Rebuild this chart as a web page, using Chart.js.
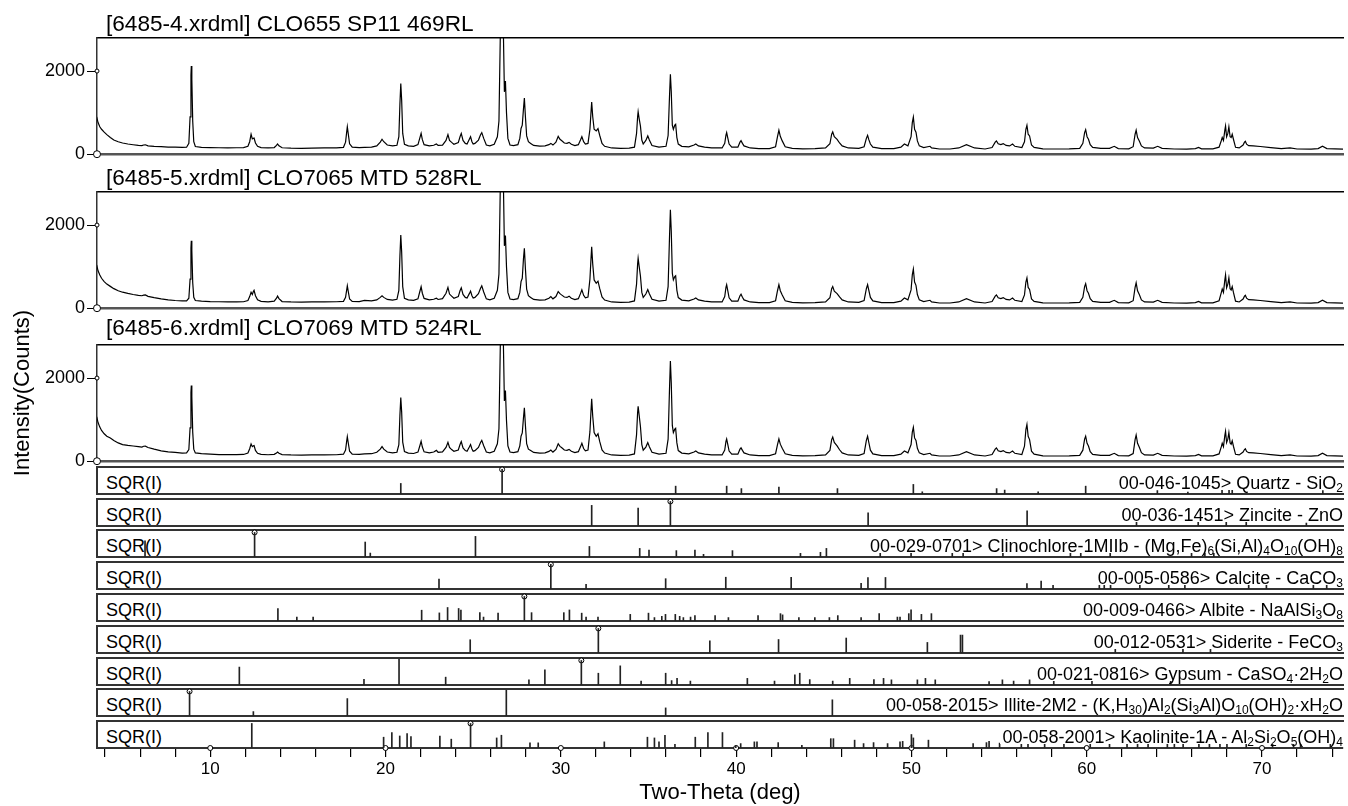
<!DOCTYPE html>
<html>
<head>
<meta charset="utf-8">
<script src="https://cdn.jsdelivr.net/npm/chart.js@4.4.1/dist/chart.umd.min.js"></script>
<style>
  body { margin: 0; background: #fff; }
  #wrap { position: relative; width: 1348px; height: 806px; overflow: hidden; font-family: "Liberation Sans", Arial, sans-serif; color: #000; }
  canvas { position: absolute; left: 0; z-index: 2; }
  .ttl { position: absolute; left: 106px; font-size: 22.6px; line-height: 22px; white-space: nowrap; z-index: 3; }
  .sqr { position: absolute; left: 106px; font-size: 18px; line-height: 18px; z-index: 1; }
  .phase { position: absolute; right: 5px; font-size: 18px; line-height: 18px; background: #fff; white-space: nowrap;
           box-sizing: border-box; padding: 5px 0 0 3px; z-index: 3; }
  .phase sub { font-size: 12px; vertical-align: -3px; line-height: 0; }
  .ylab { position: absolute; width: 220px; text-align: center; font-size: 22px; line-height: 22px; transform: rotate(-90deg); z-index: 3; }
</style>
</head>
<body>
<div id="wrap"></div>
<script>
// ---- data ----
const XMIN = 3.54, XMAX = 74.62;

const sampleNames = [
  '[6485-4.xrdml] CLO655 SP11 469RL',
  '[6485-5.xrdml] CLO7065 MTD 528RL',
  '[6485-6.xrdml] CLO7069 MTD 524RL'
];

const twoTheta = [
  3.52,3.6,3.7,3.8,3.95,4.1,4.3,4.5,4.75,5.0,
  5.3,5.6,5.9,6.1,6.2,6.3,6.45,6.8,7.2,7.6,
  8.0,8.4,8.65,8.78,8.85,8.9,8.92,8.95,9.0,9.06,
  9.15,9.5,10.0,10.5,11.0,11.5,11.9,12.15,12.25,12.33,
  12.4,12.46,12.5,12.58,12.7,12.9,13.3,13.65,13.78,13.84,
  13.92,14.1,14.6,15.2,15.8,16.5,17.2,17.6,17.72,17.78,
  17.82,17.87,17.95,18.1,18.5,18.8,19.2,19.5,19.7,19.8,
  19.9,20.1,20.4,20.65,20.76,20.82,20.87,20.92,20.98,21.08,
  21.3,21.6,21.85,21.95,22.03,22.1,22.2,22.5,22.75,22.9,
  23.0,23.25,23.45,23.56,23.65,23.77,23.9,24.15,24.25,24.32,
  24.42,24.55,24.65,24.78,24.85,24.93,25.0,25.1,25.3,25.42,
  25.49,25.6,25.75,25.95,26.2,26.38,26.47,26.56,26.64,26.72,
  26.78,26.84,26.9,26.98,27.1,27.3,27.55,27.66,27.73,27.8,
  27.87,27.92,27.98,28.05,28.15,28.28,28.45,28.8,29.1,29.32,
  29.43,29.55,29.72,29.85,29.95,30.04,30.2,30.35,30.47,30.6,
  30.8,31.0,31.12,31.2,31.3,31.4,31.55,31.66,31.72,31.76,
  31.82,31.9,32.02,32.12,32.22,32.35,32.5,32.9,33.4,33.9,
  34.2,34.32,34.38,34.41,34.47,34.54,34.62,34.7,34.85,34.96,
  35.05,35.2,35.6,36.0,36.12,36.2,36.25,36.3,36.36,36.42,
  36.5,36.55,36.62,36.7,36.9,37.3,37.6,37.7,37.85,38.2,
  38.6,38.9,39.2,39.35,39.42,39.46,39.52,39.6,39.75,40.1,
  40.22,40.28,40.36,40.45,40.8,41.3,41.9,42.25,42.36,42.44,
  42.52,42.63,42.8,43.2,43.8,44.5,45.1,45.35,45.45,45.51,
  45.6,45.76,45.9,46.05,46.4,47.0,47.3,47.43,47.5,47.57,
  47.66,47.8,48.3,49.0,49.4,49.6,49.8,49.98,50.05,50.11,
  50.18,50.26,50.34,50.45,50.7,51.0,51.06,51.15,51.6,52.2,
  52.7,53.14,53.6,54.2,54.6,54.78,54.85,54.95,55.1,55.24,
  55.4,55.6,55.77,55.9,56.3,56.45,56.53,56.59,56.66,56.74,
  56.85,57.0,57.5,58.3,59.0,59.6,59.78,59.88,59.94,60.02,
  60.1,60.2,60.34,60.8,61.3,61.57,61.8,62.4,62.65,62.76,
  62.82,62.9,63.0,63.12,63.3,63.8,64.05,64.3,65.0,65.7,
  66.2,66.38,66.55,67.2,67.55,67.68,67.73,67.8,67.88,67.92,
  67.98,68.05,68.11,68.18,68.24,68.3,68.37,68.49,68.7,68.92,
  69.0,69.05,69.12,69.24,69.5,69.9,70.5,71.1,71.6,72.0,
  72.8,73.2,73.45,73.7,74.62
];

const counts4 = [
  900,760,660,600,530,470,400,340,300,270,
  245,228,212,205,222,226,200,188,180,172,
  168,163,168,260,900,1900,2120,1800,800,300,
  185,165,158,155,152,155,160,190,300,480,
  370,385,390,270,190,160,150,160,210,245,
  200,155,145,142,148,150,152,165,290,520,
  660,500,250,170,158,165,170,200,290,360,
  300,220,200,215,420,1200,1700,1300,500,240,
  200,190,230,380,500,350,230,200,215,245,
  210,220,330,470,330,285,240,280,420,500,
  330,260,245,360,420,300,245,260,340,470,
  520,380,220,200,240,420,800,3200,4400,3000,
  1500,1760,1000,380,220,205,230,380,620,700,
  1100,1350,900,440,300,260,210,195,200,230,
  260,220,290,430,360,330,270,260,285,240,
  205,230,340,420,300,245,260,600,1000,1255,
  900,600,560,615,450,260,190,150,140,145,
  170,500,900,1020,850,680,340,245,330,440,
  340,210,170,190,450,1400,1925,1500,700,600,
  700,720,400,245,190,175,220,245,200,170,
  150,155,150,260,460,520,400,245,170,170,
  290,325,260,200,150,135,135,180,420,575,
  430,320,180,140,130,135,150,250,480,535,
  420,355,270,200,150,140,180,380,455,350,
  245,170,135,135,170,245,200,420,760,890,
  600,530,320,200,160,185,190,150,125,125,
  150,230,150,125,160,290,320,250,230,255,
  210,200,245,190,160,300,600,695,480,440,
  220,165,130,125,130,140,260,520,590,420,
  360,230,165,140,140,190,135,130,180,480,
  575,400,320,200,150,145,190,140,125,122,
  135,165,130,130,170,330,400,330,580,680,
  420,500,660,420,400,480,360,165,150,220,
  290,310,240,205,200,185,160,135,150,125,
  120,135,190,135,120
];

const counts5 = [
  1040,900,800,720,640,580,525,470,420,385,
  355,330,310,300,315,318,285,255,225,200,
  185,175,178,240,700,1450,1620,1380,620,260,
  185,170,160,155,150,150,155,185,280,385,
  330,400,430,300,200,165,150,170,240,290,
  230,160,150,148,150,152,155,165,260,430,
  540,410,220,165,160,190,175,200,260,300,
  260,210,195,215,430,1250,1760,1350,520,240,
  200,190,225,390,515,360,235,200,215,240,
  210,230,360,500,340,290,240,280,420,490,
  330,260,245,350,410,300,245,260,350,480,
  540,390,225,200,240,430,820,3300,4600,3100,
  1500,1750,1000,380,220,205,230,380,640,720,
  1200,1440,950,460,300,260,210,195,200,240,
  280,225,280,400,350,320,270,260,290,240,
  205,230,350,440,310,250,270,700,1180,1480,
  1060,680,600,650,470,270,195,150,140,145,
  175,580,1060,1200,1000,780,380,260,340,450,
  350,215,170,190,520,1720,2370,1850,840,680,
  760,780,430,255,195,175,220,245,200,170,
  150,155,150,280,500,565,430,250,170,170,
  300,335,265,200,150,135,135,180,420,565,
  420,315,180,140,130,135,150,250,470,520,
  410,350,270,200,150,140,185,470,565,430,
  260,175,135,135,170,245,200,440,800,940,
  630,550,330,200,160,185,190,150,125,125,
  150,230,150,125,160,290,320,250,230,255,
  210,200,245,190,160,320,630,730,500,450,
  225,165,130,125,130,140,260,520,590,420,
  360,230,165,140,140,190,135,130,180,500,
  610,420,330,200,150,145,190,140,125,122,
  135,165,130,130,180,380,460,380,680,800,
  490,580,730,470,440,520,380,170,150,220,
  290,310,240,205,200,185,160,135,150,125,
  120,135,190,135,120
];

const counts6 = [
  1070,930,820,740,660,600,560,500,440,400,
  380,365,350,340,360,362,330,290,250,225,
  210,195,200,280,800,1650,1820,1550,700,290,
  200,180,168,160,158,158,162,195,300,415,
  350,370,375,260,190,165,155,165,200,220,
  190,160,150,148,150,152,155,168,270,470,
  590,450,240,170,162,175,180,215,290,350,
  290,220,200,215,400,1100,1530,1180,460,230,
  195,185,220,360,480,340,225,200,220,260,
  215,225,330,455,330,280,240,270,400,470,
  320,255,240,340,400,295,240,255,330,450,
  500,370,220,200,240,420,780,3100,4300,2900,
  1450,1700,980,370,220,205,230,370,600,680,
  1050,1285,860,420,290,255,210,195,200,235,
  270,220,285,420,355,330,270,260,285,240,
  205,230,345,430,305,250,270,710,1200,1500,
  1080,690,600,660,470,270,195,150,140,145,
  175,640,1170,1320,1100,840,400,265,340,450,
  350,215,170,190,530,1750,2410,1880,860,690,
  770,790,440,255,195,175,220,245,200,170,
  150,155,150,270,475,535,410,245,170,170,
  290,320,260,200,150,135,135,180,400,535,
  410,310,180,140,130,135,150,260,520,580,
  450,370,275,200,150,140,185,500,600,450,
  265,175,135,135,170,245,200,400,700,815,
  560,500,310,200,160,185,190,150,125,125,
  150,230,150,125,160,290,320,250,230,255,
  210,200,245,190,160,360,760,885,600,520,
  240,170,130,125,130,140,265,530,600,430,
  365,230,165,140,140,190,135,130,185,520,
  630,430,335,205,150,145,190,140,125,122,
  135,165,130,130,175,350,430,350,620,720,
  450,530,690,440,410,490,360,165,150,220,
  280,300,235,205,200,185,160,135,150,125,
  120,135,190,135,120
];

const yTicks = [0, 2000];
const xLabelTicks = [10, 20, 30, 40, 50, 60, 70];

// reference patterns: [2theta, sqrt(I) relative]
const quartz = [[20.87,43],[26.65,100],[36.55,32],[39.46,32],[40.3,22],[42.44,28],[45.78,22],[50.11,39],[50.62,9],
  [54.86,22],[55.32,16],[57.23,9],[59.94,32],[64.03,14],[65.77,8],[67.72,24],[68.12,20],[68.3,22],[73.47,14]];
const zincite = [[31.76,84],[34.41,73],[36.25,100],[47.53,54],[56.6,62],[62.84,55],[66.36,20],[67.96,48],[69.1,33],[72.53,12]];
const clinochlore = [[6.28,66],[12.53,100],[18.84,61],[19.13,16],[25.13,84],[31.63,43],[34.5,35],[35.03,28],[36.59,26],
  [37.65,28],[38.14,11],[39.79,26],[43.67,15],[44.81,19],[45.15,35],[48.22,20],[49.98,22],[52.33,15],[52.95,18],
  [55.22,15],[59.07,20],[59.66,40],[61.34,35],[65.98,15],[66.74,15],[67.25,18]];
const calcite = [[23.05,40],[29.43,100],[31.44,19],[35.98,42],[39.41,48],[43.14,48],[47.13,23],[47.52,47],[48.52,47],
  [56.59,22],[57.4,32],[58.08,15],[60.72,20],[61.0,15],[61.36,20],[63.03,15],[64.68,15],[65.6,20],[69.24,15],
  [70.25,15],[72.93,18],[73.69,20]];
const albite = [[13.86,51],[14.94,16],[15.87,16],[22.06,44],[23.07,33],[23.54,55],[24.17,51],[24.3,44],[25.38,34],
  [25.59,16],[26.42,32],[27.92,100],[28.33,34],[30.17,34],[30.49,45],[31.19,32],[31.44,16],[32.12,16],[33.96,27],
  [35.0,32],[35.34,14],[35.76,19],[35.97,27],[36.53,27],[36.78,19],[36.99,14],[37.4,16],[37.65,22],[38.8,22],
  [39.56,14],[41.25,22],[42.53,30],[42.65,25],[43.58,14],[44.49,14],[45.32,14],[45.8,22],[47.13,14],[48.16,30],
  [49.2,16],[49.35,16],[49.85,30],[49.98,45],[50.57,27],[51.14,30]];
const siderite = [[24.83,54],[32.14,100],[38.5,50],[42.42,55],[46.28,61],[50.91,43],[52.8,73],[52.91,73],
  [61.63,25],[65.49,20],[67.06,20]];
const gypsum = [[11.66,73],[18.77,23],[20.77,105],[23.43,32],[28.18,21],[29.09,62],[31.17,100],[32.14,48],[33.39,78],
  [34.58,16],[35.98,48],[36.32,18],[36.63,27],[37.39,16],[40.64,27],[42.19,16],[43.35,41],[43.63,48],[44.2,22],
  [45.51,16],[46.48,27],[47.86,22],[48.41,27],[48.86,21],[50.34,21],[50.8,27],[51.36,21],[54.43,14],[55.19,21],
  [55.83,16],[56.74,21],[58.12,20],[60.3,15],[64.79,18]];
const illite = [[8.82,100],[12.46,18],[17.82,71],[26.89,105],[35.98,33],[45.49,66]];
const kaolinite = [[12.37,100],[19.89,44],[20.36,63],[20.81,49],[21.23,59],[21.45,47],[23.1,49],[23.75,36],[24.85,100],
  [26.34,41],[26.61,52],[28.24,21],[28.71,21],[32.48,25],[34.94,44],[35.34,41],[35.6,25],[35.94,52],[36.51,15],
  [37.67,44],[38.39,63],[39.22,63],[39.98,11],[40.26,18],[41.04,25],[41.19,25],[42.4,22],[43.75,11],[45.4,38],
  [45.55,38],[46.76,32],[47.27,18],[47.84,22],[48.64,18],[49.35,25],[49.5,27],[50.0,55],[50.11,41],[50.97,32],
  [53.52,18],[54.28,22],[54.43,27],[55.03,20],[56.27,20],[56.65,22],[57.6,18],[58.7,15],[60.2,30],[61.3,20],
  [62.3,45],[62.9,20],[63.5,15],[64.6,20],[65.0,15],[65.5,20],[66.4,15],[67.0,18],[67.6,15],[68.0,20],[69.1,15],
  [70.6,18],[71.8,15],[72.2,15],[73.9,15]];

const phaseSticks = [quartz, zincite, clinochlore, calcite, albite, siderite, gypsum, illite, kaolinite];
const phaseRefPeaks = [26.65, 36.25, 12.53, 29.43, 27.92, 32.14, 31.17, 8.82, 24.85];
const phaseLabels = [
  '00-046-1045&gt; Quartz - SiO<sub>2</sub>',
  '00-036-1451&gt; Zincite - ZnO',
  '00-029-0701&gt; Clinochlore-1MIIb - (Mg,Fe)<sub>6</sub>(Si,Al)<sub>4</sub>O<sub>10</sub>(OH)<sub>8</sub>',
  '00-005-0586&gt; Calcite - CaCO<sub>3</sub>',
  '00-009-0466&gt; Albite - NaAlSi<sub>3</sub>O<sub>8</sub>',
  '00-012-0531&gt; Siderite - FeCO<sub>3</sub>',
  '00-021-0816&gt; Gypsum - CaSO<sub>4</sub>·2H<sub>2</sub>O',
  '00-058-2015&gt; Illite-2M2 - (K,H<sub>30</sub>)Al<sub>2</sub>(Si<sub>3</sub>Al)O<sub>10</sub>(OH)<sub>2</sub>·xH<sub>2</sub>O',
  '00-058-2001&gt; Kaolinite-1A - Al<sub>2</sub>Si<sub>2</sub>O<sub>5</sub>(OH)<sub>4</sub>'
];

// ---- layout ----
const PAT_TOP = [37, 191, 344];
const PAT_H = 118;
const TITLE_Y = [24.2, 178.3, 328.3];
const STICK_TOP = [467, 499, 530, 562, 594, 626, 658, 689, 721];
const STICK_H = 27;
const PLOT_LEFT = 97;

Chart.defaults.font.family = '"Liberation Sans", Arial, sans-serif';
Chart.defaults.color = '#000';
Chart.defaults.animation = false;
Chart.defaults.responsive = false;
Chart.defaults.plugins.legend.display = false;
Chart.defaults.plugins.tooltip.enabled = false;

const wrap = document.getElementById('wrap');

function addCanvas(top, height) {
  const c = document.createElement('canvas');
  c.width = 1348;
  c.height = height;
  c.style.top = top + 'px';
  wrap.appendChild(c);
  return c;
}

function addDiv(cls, html, top) {
  const d = document.createElement('div');
  d.className = cls;
  d.innerHTML = html;
  d.style.top = top + 'px';
  wrap.appendChild(d);
  return d;
}

function topBorder(color, width) {
  return {
    type: 'linear', position: 'top', min: XMIN, max: XMAX,
    ticks: { display: false }, grid: { display: false },
    border: { display: true, color: color, width: width },
    afterFit: s => { s.height = 0; }
  };
}

function patternChart(idx, counts) {
  const top = PAT_TOP[idx];
  const cv = addCanvas(top - 12, PAT_H + 24);
  new Chart(cv, {
    type: 'line',
    data: {
      datasets: [
        {
          data: twoTheta.map((t, i) => ({ x: t, y: counts[i] })),
          borderColor: '#000', borderWidth: 1.2, pointRadius: 0, tension: 0
        },
        {
          type: 'scatter',
          data: yTicks.map(v => ({ x: XMIN, y: v })),
          pointRadius: c => (c.raw && c.raw.y === 0 ? 3.5 : 2),
          backgroundColor: '#fff', borderColor: '#000', borderWidth: 1, clip: false
        },
        {
          type: 'scatter',
          data: [{ x: XMIN, y: 0 }],
          pointStyle: 'crossRot', pointRadius: 3,
          borderColor: '#000', borderWidth: 1, clip: false
        }
      ]
    },
    options: {
      layout: { padding: { top: 12, bottom: 12, left: 0, right: 0 } },
      scales: {
        x: {
          type: 'linear', min: XMIN, max: XMAX,
          ticks: { display: false }, grid: { display: false },
          border: { color: '#555', width: 2.5 },
          afterFit: s => { s.height = 0; }
        },
        xTop: topBorder('#000', 1.5),
        y: {
          min: 0, max: 2800,
          afterBuildTicks: s => { s.ticks = yTicks.map(v => ({ value: v })); },
          ticks: { font: { size: 18 }, color: '#000', padding: 2, callback: v => String(v) },
          grid: { drawOnChartArea: false, tickLength: 10, color: '#000', lineWidth: 1 },
          border: { color: '#333', width: 1.5 },
          afterFit: s => { s.width = PLOT_LEFT; }
        }
      }
    }
  });
  addDiv('ttl', sampleNames[idx], TITLE_Y[idx] - 10.9);
}

function stickChart(i) {
  const top = STICK_TOP[i];
  const last = i === phaseSticks.length - 1;
  const cvTop = top - 6;
  const cvH = last ? 806 - cvTop : STICK_H + 12;
  const cv = addCanvas(cvTop, cvH);
  const sticks = phaseSticks[i];
  const ref = sticks.find(p => p[0] === phaseRefPeaks[i]);
  const datasets = [
    {
      type: 'bar',
      data: sticks.map(p => ({ x: p[0], y: p[1] })),
      backgroundColor: '#222', barThickness: 1, borderWidth: 0
    },
    {
      type: 'scatter',
      data: [{ x: ref[0], y: ref[1] }],
      pointRadius: 2.5, backgroundColor: '#fff', borderColor: '#000', borderWidth: 1, clip: false
    }
  ];
  if (last) {
    datasets.push({
      type: 'scatter',
      data: xLabelTicks.map(v => ({ x: v, y: 0 })),
      pointRadius: 2.5, backgroundColor: '#fff', borderColor: '#000', borderWidth: 1, clip: false
    });
  }
  new Chart(cv, {
    type: 'bar',
    data: { datasets: datasets },
    options: {
      layout: { padding: { top: 6, bottom: last ? 0 : 6, left: PLOT_LEFT, right: 0 } },
      scales: {
        x: {
          type: 'linear', min: XMIN, max: XMAX, offset: false,
          ticks: last ? {
            display: true, stepSize: 2, autoSkip: false, includeBounds: false, maxRotation: 0,
            font: { size: 17 }, color: '#000', padding: 2,
            callback: v => (xLabelTicks.includes(Math.round(v)) && Math.abs(v - Math.round(v)) < 1e-6 ? String(Math.round(v)) : '')
          } : { display: false },
          grid: last ? { display: true, offset: false, drawOnChartArea: false, tickLength: 9, color: '#000', lineWidth: 1.2 }
                     : { display: false },
          border: { color: '#333', width: 2 },
          title: last ? { display: true, text: 'Two-Theta (deg)', font: { size: 22 }, color: '#000', padding: 0 }
                      : { display: false },
          afterFit: s => { s.height = last ? cvH - 6 - STICK_H : 0; }
        },
        xTop: topBorder('#333', 2),
        y: {
          min: 0, max: 110,
          ticks: { display: false }, grid: { display: false },
          border: { color: '#333', width: 2 },
          afterFit: s => { s.width = 0; }
        }
      }
    }
  });
  addDiv('sqr', 'SQR(I)', top + 7);
  const lab = addDiv('phase', phaseLabels[i], top + 2);
  lab.style.height = (STICK_H - 6) + 'px';
}

patternChart(0, counts4);
patternChart(1, counts5);
patternChart(2, counts6);
for (let i = 0; i < phaseSticks.length; i++) stickChart(i);

const yl = addDiv('ylab', 'Intensity(Counts)', 393 - 11);
yl.style.left = (22 - 110) + 'px';
</script>
</body>
</html>
